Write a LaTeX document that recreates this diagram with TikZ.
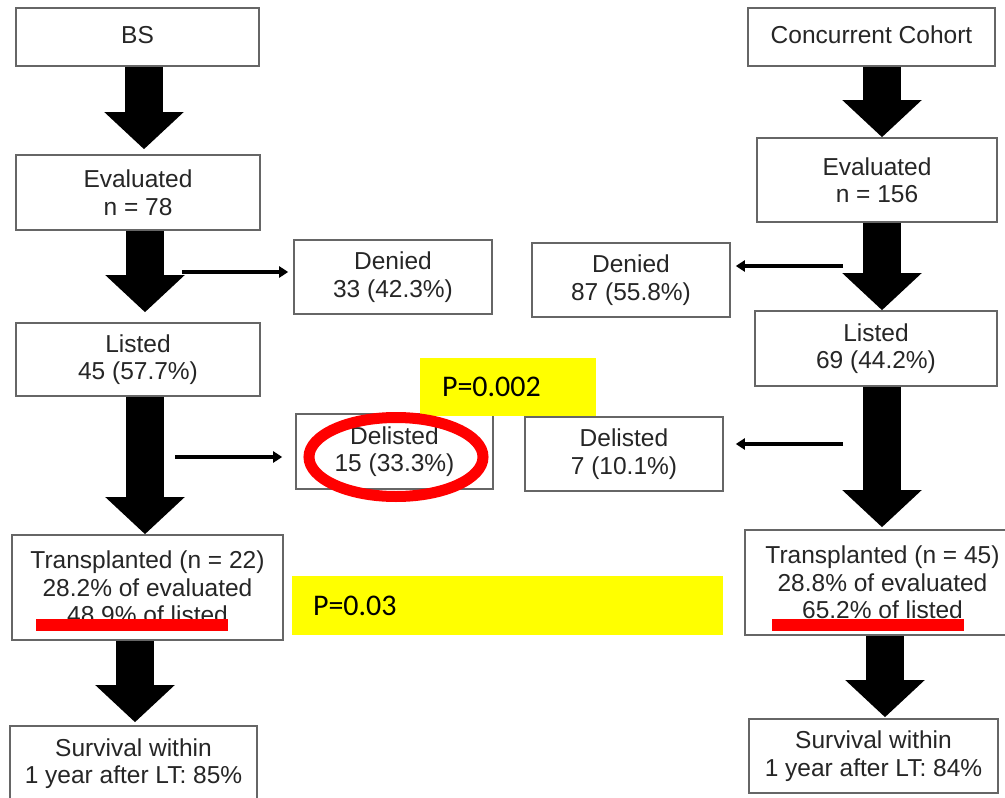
\documentclass[tikz,border=0pt]{standalone}
\usepackage{fontspec}
\setmainfont{Liberation Sans}
\newfontfamily\calibrifont{Carlito}
\usetikzlibrary{arrows.meta,calc}
\tikzset{
  fbox/.style={draw=black!60, line width=1.6pt, fill=white, inner sep=0pt, align=center,
    text=black!85, font=\fontsize{24.5}{27.5}\selectfont},
  bigarr/.style={line width=38pt, -{Triangle[width=77pt,length=37pt]}},
  thinarr/.style={line width=3.5pt, -{Triangle[width=11pt,length=9pt]}},
  ybox/.style={fill={rgb,255:red,255;green,255;blue,0}, inner ysep=0pt, align=left, text=black, font=\calibrifont\fontsize{30}{32}\selectfont},
  redline/.style={fill=red, draw=none}
}
\begin{document}
\begin{tikzpicture}[x=1pt,y=-1pt]
\useasboundingbox (0,0) rectangle (1005,798);
\fill[white] (0,0) rectangle (1005,798);
% left column
\node[fbox, minimum width=243pt, minimum height=58pt] (bs) at (137.5,37) {\raisebox{4pt}{BS}};
\node[fbox, minimum width=244pt, minimum height=75pt] (ev) at (138,192.5) {Evaluated\\n = 78};
\node[fbox, minimum width=198pt, minimum height=74pt] (den) at (393,277) {Denied\\33 (42.3\%)};
\node[fbox, minimum width=244pt, minimum height=73pt] (lis) at (138,359.5) {Listed\\45 (57.7\%)};
\node[fbox, minimum width=197pt, minimum height=75pt] (del) at (394.5,451.5) {Delisted\\15 (33.3\%)};
\node[fbox, minimum width=271pt, minimum height=105pt] (tra) at (147.5,587.5) {Transplanted (n = 22)\\28.2\% of evaluated\\48.9\% of listed};
\node[fbox, minimum width=247pt, minimum height=75pt] (sur) at (133.5,763.5) {Survival within\\1 year after LT: 85\%};
% right column
\node[fbox, minimum width=247pt, minimum height=58pt] (cc) at (871.5,37) {\raisebox{4pt}{Concurrent Cohort}};
\node[fbox, minimum width=240pt, minimum height=84pt] (ev2) at (877,180) {Evaluated\\n = 156};
\node[fbox, minimum width=198pt, minimum height=74pt] (den2) at (631,280) {Denied\\87 (55.8\%)};
\node[fbox, minimum width=242pt, minimum height=75pt] (lis2) at (876,348.5) {Listed\\69 (44.2\%)};
\node[fbox, minimum width=198pt, minimum height=74pt] (del2) at (624,454) {Delisted\\7 (10.1\%)};
\node[fbox, minimum width=275pt, minimum height=105pt] (tra2) at (882.5,582.5) {Transplanted (n = 45)\\28.8\% of evaluated\\65.2\% of listed};
\node[fbox, minimum width=249pt, minimum height=74pt] (sur2) at (873.5,756) {Survival within\\1 year after LT: 84\%};
% big arrows left
\draw[bigarr] ([xshift=6.5pt]bs.south) -- ([xshift=6pt,yshift=5pt]ev.north);
\draw[bigarr] ([xshift=7pt]ev.south) -- ([xshift=7pt,yshift=10pt]lis.north);
\draw[bigarr] ([xshift=7pt]lis.south) -- ([xshift=-2.5pt]tra.north);
\draw[bigarr] ([xshift=-12.5pt]tra.south) -- ([xshift=1.5pt,yshift=3pt]sur.north);
% big arrows right
\draw[bigarr] ([xshift=10.5pt]cc.south) -- ([xshift=5pt]ev2.north);
\draw[bigarr] ([xshift=5pt]ev2.south) -- ([xshift=6pt]lis2.north);
\draw[bigarr] ([xshift=6pt]lis2.south) -- ([xshift=-0.5pt,yshift=2pt]tra2.north);
\draw[bigarr] ([xshift=2.5pt]tra2.south) -- ([xshift=11.5pt,yshift=1pt]sur2.north);
% thin arrows
\coordinate (t1) at (182,272);
\coordinate (t2) at (175,457);
\coordinate (t3) at (843,266);
\coordinate (t4) at (843,444);
\draw[thinarr, shorten >=5pt] (t1) -- (t1 -| den.west);
\draw[thinarr, shorten >=13pt] (t2) -- (t2 -| del.west);
\draw[thinarr, shorten >=5pt] (t3) -- (t3 -| den2.east);
\draw[thinarr, shorten >=12pt] (t4) -- (t4 -| del2.east);
% yellow p-value boxes
\node[ybox, minimum height=58pt, text width=132pt, inner xsep=22pt] (p1) at (508,387) {P=0.002};
\node[ybox, minimum height=59pt, text width=389pt, inner xsep=21pt] (p2) at (507.5,605.5) {P=0.03};
% red highlights
\fill[redline] (36,619) rectangle (228,631);
\fill[redline] (772,619) rectangle (964,631);
\draw[red, line width=11pt] (396,457) ellipse [x radius=87pt, y radius=39.5pt];
\end{tikzpicture}
\end{document}
